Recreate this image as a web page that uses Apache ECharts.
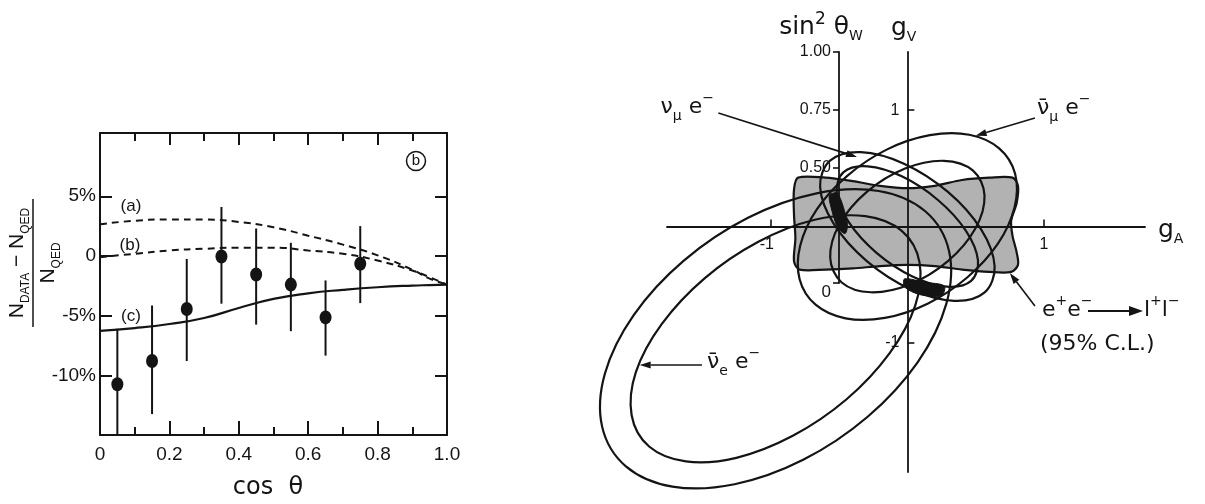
<!DOCTYPE html>
<html>
<head>
<meta charset="utf-8">
<script src="https://cdn.jsdelivr.net/npm/echarts@6/dist/echarts.min.js"></script>
<style>
  html, body { margin: 0; padding: 0; background: #fff; }
  #chart { width: 1205px; height: 504px; }
</style>
</head>
<body>
<div id="chart"></div>
<script>
// ---------- Left panel: (N_DATA - N_QED) / N_QED versus cos(theta) ----------
const cosTheta  = [0.05, 0.15, 0.25, 0.35, 0.45, 0.55, 0.65, 0.75];
const deviation = [-10.75, -8.8, -4.45, -0.05, -1.55, -2.4, -5.15, -0.65];
const errLow    = [-15.0, -13.25, -8.8, -4.0, -5.75, -6.3, -8.35, -3.95];
const errHigh   = [-6.1, -4.15, -0.25, 4.1, 2.3, 1.1, -2.05, 2.5];

const curveX = [0, 0.1, 0.2, 0.3, 0.4, 0.5, 0.6, 0.7, 0.8, 0.9, 0.95, 1.0];
const curveA = [2.65, 2.95, 3.05, 3.05, 2.85, 2.4, 1.7, 0.95, 0.05, -1.15, -1.9, -2.4];
const curveB = [-0.1, 0.18, 0.46, 0.6, 0.69, 0.69, 0.46, 0.18, -0.38, -1.22, -1.78, -2.4];
const curveC = [-6.27, -6.04, -5.7, -5.2, -4.36, -3.6, -3.13, -2.84, -2.62, -2.48, -2.44, -2.4];

const devTicks = [-10, -5, 0, 5];

// ---------- Right panel: allowed regions in the (g_A, g_V) plane ----------
const gATicks = [-1, 1];
const gVTicks = [-1, 1];
const sinTicks = [0, 0.5, 0.75, 1];

// e+e- -> l+l- (95% C.L.) shaded region
const eeRegion = [
  [-0.80, 0.42], [-0.60, 0.42], [-0.40, 0.39], [-0.20, 0.35], [0.00, 0.33], [0.20, 0.35],
  [0.40, 0.40], [0.60, 0.42], [0.77, 0.42], [0.81, 0.35], [0.80, 0.20], [0.76, 0.05],
  [0.77, -0.08], [0.80, -0.22], [0.81, -0.33], [0.76, -0.39], [0.60, -0.39], [0.40, -0.37],
  [0.20, -0.34], [0.00, -0.33], [-0.20, -0.34], [-0.40, -0.36], [-0.60, -0.37], [-0.79, -0.37],
  [-0.83, -0.30], [-0.82, -0.10], [-0.83, 0.10], [-0.83, 0.32]
];

// anti-nu_e e- band (outer / inner contour)
const nuebarOuter = [
  [0.131, 0.131], [-0.21, 0.305], [-0.665, 0.285], [-1.167, 0.075], [-1.637, -0.293],
  [-2.005, -0.763], [-2.215, -1.265], [-2.235, -1.72], [-2.061, -2.061], [-1.72, -2.235],
  [-1.265, -2.215], [-0.763, -2.005], [-0.293, -1.637], [0.075, -1.167], [0.285, -0.665],
  [0.305, -0.21]
];
const nuebarInner = [
  [-0.039, -0.039], [-0.308, 0.089], [-0.678, 0.058], [-1.091, -0.131], [-1.485, -0.445],
  [-1.799, -0.839], [-1.988, -1.252], [-2.019, -1.622], [-1.891, -1.891], [-1.622, -2.019],
  [-1.252, -1.988], [-0.839, -1.799], [-0.445, -1.485], [-0.131, -1.091], [0.058, -0.678],
  [0.089, -0.308]
];

// anti-nu_mu e- band
const numubarOuter = [
  [0.672, 0.672], [0.453, 0.789], [0.165, 0.785], [-0.148, 0.663], [-0.438, 0.438],
  [-0.663, 0.148], [-0.785, -0.165], [-0.789, -0.453], [-0.672, -0.672], [-0.453, -0.789],
  [-0.165, -0.785], [0.148, -0.663], [0.438, -0.438], [0.663, -0.148], [0.785, 0.165],
  [0.789, 0.453]
];
const numubarInner = [
  [0.481, 0.481], [0.268, 0.565], [-0.017, 0.498], [-0.297, 0.297], [-0.498, 0.017],
  [-0.565, -0.268], [-0.481, -0.481], [-0.268, -0.565], [0.017, -0.498], [0.297, -0.297],
  [0.498, -0.017], [0.565, 0.268]
];

// nu_mu e- band
const numuOuter = [
  [0.297, 0.297], [-0.025, 0.540], [-0.341, 0.639], [-0.566, 0.566], [-0.639, 0.341],
  [-0.540, 0.025], [-0.297, -0.297], [0.025, -0.540], [0.341, -0.639], [0.566, -0.566],
  [0.639, -0.341], [0.540, -0.025]
];
const numuInner = [
  [0.226, 0.226], [-0.037, 0.429], [-0.291, 0.517], [-0.467, 0.467], [-0.517, 0.291],
  [-0.429, 0.037], [-0.226, -0.226], [0.037, -0.429], [0.291, -0.517], [0.467, -0.467],
  [0.517, -0.291], [0.429, -0.037]
];

// common solutions (dark patches)
const solution1 = [[-0.57, 0.27], [-0.51, 0.285], [-0.44, 0.03], [-0.455, -0.06], [-0.51, -0.01], [-0.56, 0.17]];
const solution2 = [[-0.02, -0.45], [0.13, -0.48], [0.27, -0.51], [0.25, -0.595], [0.09, -0.585], [-0.02, -0.52]];

// pointer arrows: [fromGA, fromGV, toGA, toGV]
const pointers = [
  [-1.384, 0.976, -0.369, 0.598],   // nu_mu e-
  [0.934, 0.933, 0.50, 0.78],       // anti-nu_mu e-
  [-1.504, -1.19, -1.96, -1.19],    // anti-nu_e e-
  [0.934, -0.684, 0.75, -0.40]      // e+e- -> l+l-
];

// ---------- drawing ----------
const ink = '#141414';
const tickFont = 'Liberation Sans, Arial, sans-serif';
const labelFont = 'DejaVu Sans, Liberation Sans, sans-serif';
const zip = (xs, ys) => xs.map((x, i) => [x, ys[i]]);

function closedShape(points, style, smooth) {
  return function (params, api) {
    if (params.dataIndex !== 0) return null;
    return {
      type: 'polygon',
      shape: { points: points.map(p => api.coord(p)), smooth: smooth },
      style: style
    };
  };
}

function contourSeries(points, z) {
  return {
    type: 'custom', xAxisIndex: 2, yAxisIndex: 2, clip: false, z: z || 4,
    silent: true, data: points, encode: { x: 0, y: 1 },
    renderItem: closedShape(points, { fill: 'none', stroke: ink, lineWidth: 2.2 }, 0.35)
  };
}

function pct(v) { return v === 0 ? '0' : v + '%'; }

const supS = { fontSize: 14, verticalAlign: 'top', lineHeight: 14, fontFamily: labelFont, fill: ink };
const subS = { fontSize: 14, verticalAlign: 'bottom', lineHeight: 14, fontFamily: labelFont, fill: ink };
const bigSup = { fontSize: 17, verticalAlign: 'top', lineHeight: 17, fontFamily: labelFont, fill: ink };

function label(text, x, y, align, size) {
  return {
    type: 'text', x: x, y: y, z: 50,
    style: {
      text: text, fill: ink, fontFamily: labelFont, fontSize: size || 22,
      lineHeight: 32, align: align || 'left', verticalAlign: 'middle',
      rich: { sup: supS, sub: subS, bsup: bigSup }
    }
  };
}

const tickText = { fill: ink, fontFamily: tickFont, fontSize: 16, verticalAlign: 'middle' };

const chart = echarts.init(document.getElementById('chart'), null, { renderer: 'canvas' });

const axisLine0 = { onZero: false, lineStyle: { color: ink, width: 2 } };
const tickStyle = { color: ink, width: 2 };

const option = {
  backgroundColor: '#ffffff',
  animation: false,
  grid: [
    { left: 100, top: 133, width: 347, height: 302 },
    { left: 667, top: 52, width: 478, height: 420 },
    { left: 839, top: 52, width: 1, height: 231 }
  ],
  xAxis: [
    {
      gridIndex: 0, type: 'value', min: 0, max: 1, interval: 0.2, position: 'bottom',
      axisLine: axisLine0,
      axisTick: { inside: true, length: 14, lineStyle: tickStyle },
      minorTick: { show: true, splitNumber: 2, length: 8, lineStyle: tickStyle },
      axisLabel: { margin: 10, fontFamily: tickFont, fontSize: 19, color: ink,
        formatter: v => (v === 0 ? '0' : v.toFixed(1)) },
      splitLine: { show: false }, minorSplitLine: { show: false }
    },
    {
      gridIndex: 0, type: 'value', min: 0, max: 1, interval: 0.2, position: 'top',
      axisLine: axisLine0,
      axisTick: { inside: true, length: 12, lineStyle: tickStyle },
      minorTick: { show: true, splitNumber: 2, length: 8, lineStyle: tickStyle },
      axisLabel: { show: false }, splitLine: { show: false }
    },
    {
      gridIndex: 1, type: 'value', min: -1.76, max: 1.74, z: 3,
      axisLine: { onZero: true, lineStyle: { color: ink, width: 1.8 } },
      axisTick: { customValues: gATicks, inside: true, length: 7, lineStyle: { color: ink, width: 1.6 } },
      axisLabel: { show: false },
      splitLine: { show: false }
    },
    { gridIndex: 2, type: 'value', min: 0, max: 1, show: false }
  ],
  yAxis: [
    {
      gridIndex: 0, type: 'value', min: -15, max: 10.3, position: 'left',
      axisLine: axisLine0,
      axisTick: { customValues: devTicks, inside: true, length: 12, lineStyle: tickStyle },
      axisLabel: { customValues: devTicks, margin: 4, fontFamily: tickFont, fontSize: 19, color: ink, formatter: pct },
      splitLine: { show: false }
    },
    {
      gridIndex: 0, type: 'value', min: -15, max: 10.3, position: 'right',
      axisLine: axisLine0,
      axisTick: { customValues: devTicks, inside: true, length: 12, lineStyle: tickStyle },
      axisLabel: { show: false }, splitLine: { show: false }
    },
    {
      gridIndex: 1, type: 'value', min: -2.11, max: 1.5, z: 3,
      axisLine: { onZero: true, lineStyle: { color: ink, width: 1.8 } },
      axisTick: { customValues: gVTicks, inside: true, length: 7, lineStyle: { color: ink, width: 1.6 } },
      axisLabel: { show: false },
      splitLine: { show: false }
    },
    {
      gridIndex: 2, type: 'value', min: 0, max: 1, interval: 0.25, z: 3,
      axisLine: { onZero: false, lineStyle: { color: ink, width: 1.8 } },
      axisTick: { customValues: sinTicks, length: 6, lineStyle: { color: ink, width: 1.6 } },
      axisLabel: { customValues: sinTicks, margin: 8, fontFamily: tickFont, fontSize: 16, color: ink,
        formatter: v => (v === 0 ? '{z|0}' : v.toFixed(2)),
        rich: { z: { fontFamily: tickFont, fontSize: 17, color: ink, padding: [18, 0, 0, 0] } } },
      splitLine: { show: false }
    }
  ],
  series: [
    // theoretical curves (a), (b), (c)
    { type: 'line', xAxisIndex: 0, yAxisIndex: 0, data: zip(curveX, curveA), smooth: true, showSymbol: false,
      lineStyle: { color: ink, width: 2, type: [7, 5] }, silent: true },
    { type: 'line', xAxisIndex: 0, yAxisIndex: 0, data: zip(curveX, curveB), smooth: true, showSymbol: false,
      lineStyle: { color: ink, width: 2, type: [7, 5] }, silent: true },
    { type: 'line', xAxisIndex: 0, yAxisIndex: 0, data: zip(curveX, curveC), smooth: true, showSymbol: false,
      lineStyle: { color: ink, width: 2.2 }, silent: true },
    // error bars
    {
      type: 'custom', xAxisIndex: 0, yAxisIndex: 0, clip: true, silent: true,
      data: cosTheta.map((x, i) => [x, errLow[i], errHigh[i]]),
      encode: { x: 0, y: [1, 2] },
      renderItem: (params, api) => {
        const a = api.coord([api.value(0), api.value(1)]);
        const b = api.coord([api.value(0), api.value(2)]);
        return { type: 'line', shape: { x1: a[0], y1: a[1], x2: b[0], y2: b[1] },
          style: { stroke: ink, lineWidth: 2 } };
      }
    },
    // measured points
    { type: 'scatter', xAxisIndex: 0, yAxisIndex: 0, data: zip(cosTheta, deviation),
      symbol: 'circle', symbolSize: [12, 14], itemStyle: { color: ink, opacity: 1 }, z: 5, silent: true },

    // shaded e+e- region
    {
      type: 'custom', xAxisIndex: 2, yAxisIndex: 2, clip: false, z: 1, silent: true,
      data: eeRegion, encode: { x: 0, y: 1 },
      renderItem: closedShape(eeRegion, { fill: '#b2b2b2', stroke: ink, lineWidth: 2.2 }, 0.3)
    },
    contourSeries(nuebarOuter),
    contourSeries(nuebarInner),
    contourSeries(numubarOuter),
    contourSeries(numubarInner),
    contourSeries(numuOuter),
    contourSeries(numuInner),
    {
      type: 'custom', xAxisIndex: 2, yAxisIndex: 2, clip: false, z: 5, silent: true,
      data: solution1, encode: { x: 0, y: 1 },
      renderItem: closedShape(solution1, { fill: ink, stroke: ink, lineWidth: 1 }, 0.3)
    },
    {
      type: 'custom', xAxisIndex: 2, yAxisIndex: 2, clip: false, z: 5, silent: true,
      data: solution2, encode: { x: 0, y: 1 },
      renderItem: closedShape(solution2, { fill: ink, stroke: ink, lineWidth: 1 }, 0.3)
    },
    // g_A tick labels, placed just below the g_A axis
    {
      type: 'custom', xAxisIndex: 2, yAxisIndex: 2, clip: false, z: 6, silent: true,
      data: gATicks.map(v => [v, 0]), encode: { x: 0, y: 1 },
      renderItem: (params, api) => {
        const v = api.value(0);
        const p = api.coord([v, 0]);
        return { type: 'text', x: p[0] + (v < 0 ? -4 : 0), y: p[1] + 18,
          style: Object.assign({ text: String(v), align: 'center' }, tickText) };
      }
    },
    // g_V tick labels, placed left of the g_V axis
    {
      type: 'custom', xAxisIndex: 2, yAxisIndex: 2, clip: false, z: 6, silent: true,
      data: gVTicks.map(v => [0, v]), encode: { x: 0, y: 1 },
      renderItem: (params, api) => {
        const v = api.value(1);
        const p = api.coord([0, v]);
        return { type: 'text', x: p[0] - 8, y: p[1],
          style: Object.assign({ text: String(v), align: 'right' }, tickText) };
      }
    },
    // pointer arrows
    {
      type: 'custom', xAxisIndex: 2, yAxisIndex: 2, clip: false, z: 6, silent: true,
      data: pointers, encode: { x: [0, 2], y: [1, 3] },
      renderItem: (params, api) => {
        const p0 = api.coord([api.value(0), api.value(1)]);
        const p1 = api.coord([api.value(2), api.value(3)]);
        const dx = p1[0] - p0[0], dy = p1[1] - p0[1];
        const len = Math.hypot(dx, dy), ux = dx / len, uy = dy / len;
        const hl = 11, hw = 3.5;
        const bx = p1[0] - ux * hl, by = p1[1] - uy * hl;
        return {
          type: 'group', children: [
            { type: 'line', shape: { x1: p0[0], y1: p0[1], x2: bx, y2: by }, style: { stroke: ink, lineWidth: 1.6 } },
            { type: 'polygon', shape: { points: [[p1[0], p1[1]], [bx - uy * hw, by + ux * hw], [bx + uy * hw, by - ux * hw]] },
              style: { fill: ink } }
          ]
        };
      }
    }
  ],
  graphic: [
    // y-axis title of the left panel, written as a fraction
    {
      type: 'group', x: 33, y: 263, rotation: Math.PI / 2, z: 50,
      children: [
        { type: 'text', x: 0, y: -16, style: {
            text: 'N{s|DATA} − N{s|QED}', fill: ink, fontFamily: tickFont, fontSize: 21, lineHeight: 30,
            align: 'center', verticalAlign: 'middle',
            rich: { s: { fontSize: 12, verticalAlign: 'bottom', lineHeight: 14, fontFamily: tickFont, fill: ink } } } },
        { type: 'line', shape: { x1: -64, y1: 0, x2: 64, y2: 0 }, style: { stroke: ink, lineWidth: 1.5 } },
        { type: 'text', x: 0, y: 15, style: {
            text: 'N{s|QED}', fill: ink, fontFamily: tickFont, fontSize: 21, lineHeight: 30,
            align: 'center', verticalAlign: 'middle',
            rich: { s: { fontSize: 12, verticalAlign: 'bottom', lineHeight: 14, fontFamily: tickFont, fill: ink } } } }
      ]
    },
    { type: 'text', x: 268, y: 488, z: 50, style: { text: 'cos  θ', fill: ink, fontFamily: labelFont, fontSize: 24,
        align: 'center', verticalAlign: 'middle' } },
    { type: 'text', x: 131, y: 206, z: 50, style: { text: '(a)', fill: ink, fontFamily: tickFont, fontSize: 17, align: 'center', verticalAlign: 'middle' } },
    { type: 'text', x: 130, y: 245, z: 50, style: { text: '(b)', fill: ink, fontFamily: tickFont, fontSize: 17, align: 'center', verticalAlign: 'middle' } },
    { type: 'text', x: 131, y: 316, z: 50, style: { text: '(c)', fill: ink, fontFamily: tickFont, fontSize: 17, align: 'center', verticalAlign: 'middle' } },
    { type: 'circle', shape: { cx: 416, cy: 161, r: 9.5 }, z: 50, style: { fill: 'none', stroke: ink, lineWidth: 1.5 } },
    { type: 'text', x: 416, y: 161, z: 50, style: { text: 'b', fill: ink, fontFamily: tickFont, fontSize: 15, align: 'center', verticalAlign: 'middle' } },

    // right panel axis titles
    label('sin{bsup|2} θ{sub|W}', 821, 27, 'center', 25),
    label('g{sub|V}', 891, 28, 'left', 25),
    label('g{sub|A}', 1158, 230, 'left', 25),

    // contour labels
    label('ν{sub|μ} e{sup|−}', 714, 107, 'right', 22),
    label('ν\u0304{sub|μ} e{sup|−}', 1037, 108, 'left', 22),
    label('ν\u0304{sub|e} e{sup|−}', 707, 362, 'left', 22),
    label('e{sup|+}e{sup|−}', 1042, 310, 'left', 22),
    { type: 'line', z: 50, shape: { x1: 1088, y1: 311, x2: 1131, y2: 311 }, style: { stroke: ink, lineWidth: 1.8 } },
    { type: 'polygon', z: 50, shape: { points: [[1143, 311], [1129, 306], [1129, 316]] }, style: { fill: ink } },
    label('l{sup|+}l{sup|−}', 1144, 310, 'left', 22),
    label('(95% C.L.)', 1040, 344, 'left', 22)
  ]
};

chart.setOption(option);
</script>
</body>
</html>
